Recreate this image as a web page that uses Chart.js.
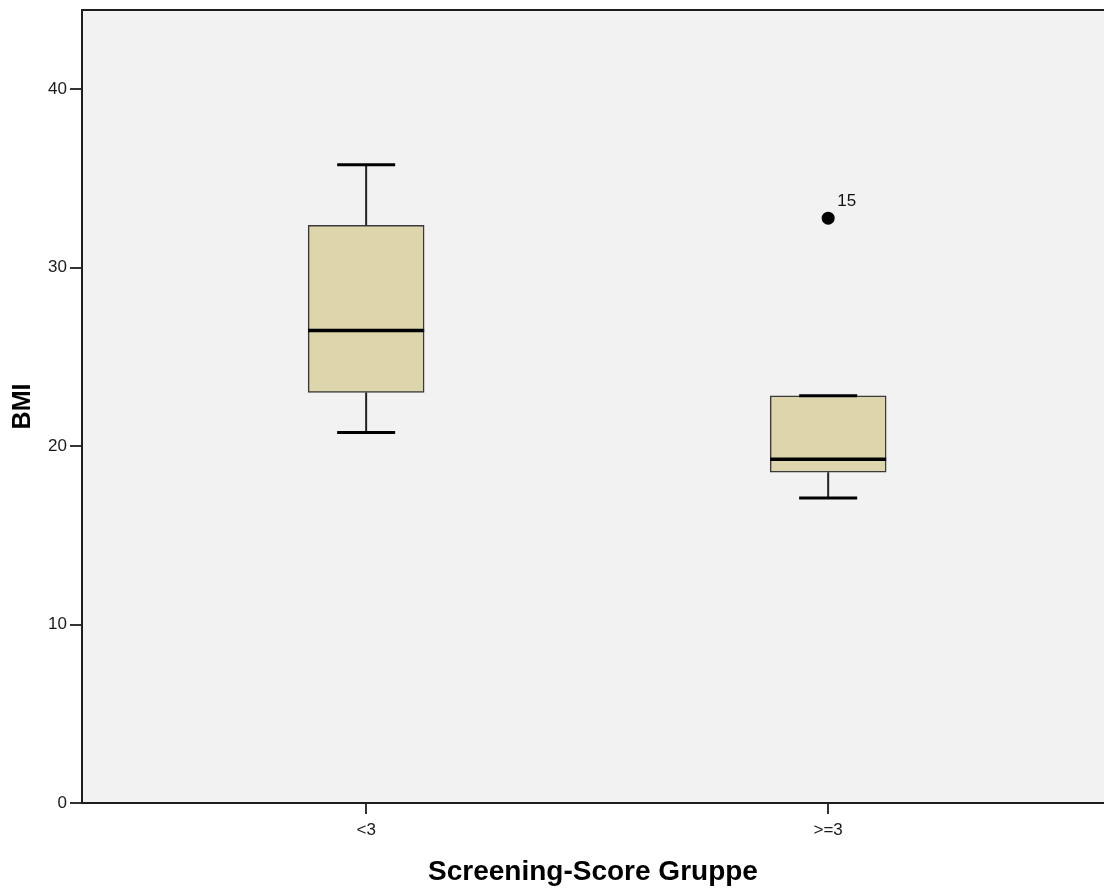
<!DOCTYPE html>
<html>
<head>
<meta charset="utf-8">
<title>BMI nach Screening-Score Gruppe</title>
<script src="https://cdn.jsdelivr.net/npm/chart.js@4.4.1/dist/chart.umd.min.js"></script>
<style>
  html, body { margin: 0; padding: 0; background: #ffffff; }
  #wrap { width: 1104px; height: 889px; }
</style>
</head>
<body>
<div id="wrap"><canvas id="chart" width="1104" height="889"></canvas></div>
<script>
// Box plot summary per group (BMI)
const groups = ['<3', '>=3'];
const whiskerLow = [20.77, 17.10];
const q1 = [23.01, 18.54];
const median = [26.48, 19.27];
const q3 = [32.38, 22.83];
const whiskerHigh = [35.78, 22.83];
const outlierValues = [[], [32.78]];
const outlierIds = [[], ['15']];
const yTicks = [0, 10, 20, 30, 40];

const FONT = "'Liberation Sans', Arial, sans-serif";

const boxData = groups.map((g, i) => ({ x: i, y: [q1[i], q3[i]] }));
const outlierData = [];
const outlierLabels = [];
outlierValues.forEach((vals, i) => vals.forEach((v, k) => {
  outlierData.push({ x: i, y: v });
  outlierLabels.push(outlierIds[i][k]);
}));

// Plot background and top frame line
const plotFrame = {
  id: 'plotFrame',
  beforeDraw(chart) {
    const { ctx, chartArea: a } = chart;
    ctx.save();
    ctx.fillStyle = '#f2f2f2';
    ctx.fillRect(a.left, a.top, a.right - a.left, a.bottom - a.top);
    ctx.restore();
  },
  afterDraw(chart) {
    const { ctx, chartArea: a } = chart;
    ctx.save();
    ctx.strokeStyle = '#1e1e1e';
    ctx.lineWidth = 2;
    ctx.beginPath();
    ctx.moveTo(a.left, a.top);
    ctx.lineTo(a.right, a.top);
    ctx.stroke();
    ctx.restore();
  }
};

// Whiskers, caps and median lines, placed via the chart scales
const boxDetails = {
  id: 'boxDetails',
  afterDatasetsDraw(chart) {
    const { ctx, scales: { x, y } } = chart;
    const meta = chart.getDatasetMeta(0);
    ctx.save();
    groups.forEach((g, i) => {
      const bar = meta.data[i];
      const cx = x.getPixelForValue(i);
      const half = bar.width / 2;
      const capHalf = bar.width / 4;
      // whisker stems
      ctx.strokeStyle = '#222';
      ctx.lineWidth = 2;
      ctx.beginPath();
      ctx.moveTo(cx, y.getPixelForValue(q3[i]));
      ctx.lineTo(cx, y.getPixelForValue(whiskerHigh[i]));
      ctx.moveTo(cx, y.getPixelForValue(q1[i]));
      ctx.lineTo(cx, y.getPixelForValue(whiskerLow[i]));
      ctx.stroke();
      // caps
      ctx.strokeStyle = '#000';
      ctx.lineWidth = 3;
      ctx.beginPath();
      ctx.moveTo(cx - capHalf, y.getPixelForValue(whiskerHigh[i]));
      ctx.lineTo(cx + capHalf, y.getPixelForValue(whiskerHigh[i]));
      ctx.moveTo(cx - capHalf, y.getPixelForValue(whiskerLow[i]));
      ctx.lineTo(cx + capHalf, y.getPixelForValue(whiskerLow[i]));
      ctx.stroke();
      // median
      ctx.lineWidth = 3.5;
      ctx.beginPath();
      ctx.moveTo(cx - half, y.getPixelForValue(median[i]));
      ctx.lineTo(cx + half, y.getPixelForValue(median[i]));
      ctx.stroke();
    });
    // outlier case labels
    const om = chart.getDatasetMeta(1);
    ctx.fillStyle = '#111';
    ctx.font = '17px ' + FONT;
    ctx.textAlign = 'left';
    ctx.textBaseline = 'alphabetic';
    om.data.forEach((pt, k) => {
      ctx.fillText(outlierLabels[k], pt.x + 9, pt.y - 12);
    });
    ctx.restore();
  }
};

new Chart(document.getElementById('chart'), {
  type: 'bar',
  data: {
    datasets: [
      {
        type: 'bar',
        data: boxData,
        backgroundColor: '#ddd5ac',
        borderColor: '#3a3a3a',
        borderWidth: 1.5,
        borderSkipped: false,
        barThickness: 116
      },
      {
        type: 'scatter',
        data: outlierData,
        pointRadius: 6.5,
        pointBackgroundColor: '#000',
        pointBorderColor: '#000',
        pointBorderWidth: 0
      }
    ]
  },
  options: {
    responsive: false,
    animation: false,
    events: [],
    layout: { autoPadding: false, padding: { top: 10, left: 0, right: 0, bottom: 0 } },
    plugins: { legend: { display: false }, tooltip: { enabled: false } },
    scales: {
      x: {
        type: 'linear',
        offset: false,
        min: -0.615,
        max: 1.597,
        afterFit(scale) {
          scale.height = 86;
          scale.paddingLeft = 0;
          scale.paddingRight = 0;
        },
        afterBuildTicks(scale) { scale.ticks = groups.map((g, i) => ({ value: i })); },
        ticks: {
          callback: (v) => groups[v],
          font: { family: FONT, size: 17 },
          color: '#1a1a1a',
          padding: 6,
          maxRotation: 0
        },
        grid: { offset: false, drawOnChartArea: false, drawTicks: true, tickLength: 11, color: '#333', lineWidth: 2 },
        border: { display: true, color: '#1e1e1e', width: 2 },
        title: {
          display: true,
          text: 'Screening-Score Gruppe',
          font: { family: FONT, size: 28, weight: 'bold' },
          color: '#000',
          padding: { top: 0, bottom: 0 }
        }
      },
      y: {
        type: 'linear',
        min: 0,
        max: 44.45,
        afterFit(scale) {
          scale.width = 82;
          scale.paddingTop = 0;
          scale.paddingBottom = 0;
        },
        afterBuildTicks(scale) { scale.ticks = yTicks.map(v => ({ value: v })); },
        ticks: {
          font: { family: FONT, size: 17 },
          color: '#1a1a1a',
          padding: 3
        },
        grid: { drawOnChartArea: false, drawTicks: true, tickLength: 12, color: '#333', lineWidth: 2 },
        border: { display: true, color: '#1e1e1e', width: 2 },
        title: {
          display: true,
          text: 'BMI',
          font: { family: FONT, size: 25, weight: 'bold' },
          color: '#000',
          padding: { top: 8, bottom: 0 }
        }
      }
    }
  },
  plugins: [plotFrame, boxDetails]
});
</script>
</body>
</html>
